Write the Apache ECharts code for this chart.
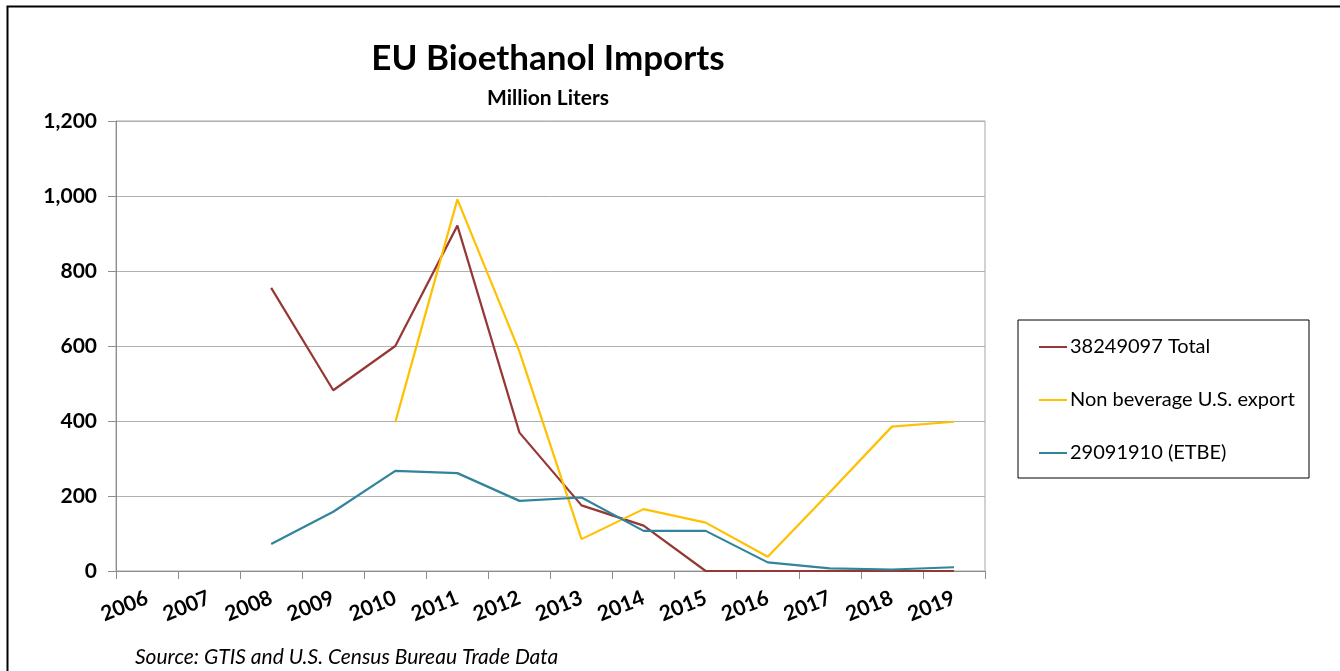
<!DOCTYPE html>
<html>
<head>
<meta charset="utf-8">
<script src="https://cdn.jsdelivr.net/npm/echarts@6/dist/echarts.min.js"></script>
<style>html,body{margin:0;padding:0;background:#fff;}#chart{width:1340px;height:671px;}</style>
</head>
<body>
<div id="chart"></div>
<script>
var years = ['2006','2007','2008','2009','2010','2011','2012','2013','2014','2015','2016','2017','2018','2019'];
var totalSeries = [null, null, 755, 482, 600, 921, 369, 175, 121, 0, 0, 0, 0, 0];
var nonBeverage = [null, null, null, null, 397, 991, 585, 85, 165, 129, 38, 210, 385, 398];
var etbe = [null, null, 72, 158, 267, 261, 187, 196, 107, 107, 23, 7, 4, 10];
var yTicks = [0, 200, 400, 600, 800, 1000, 1200];
var seriesNames = ['38249097 Total', 'Non beverage U.S. export', '29091910 (ETBE)'];
var colors = ['#953735', '#FFC000', '#31849B'];

var font = 'Lato, "Open Sans", sans-serif';
var chart = echarts.init(document.getElementById('chart'), null, {renderer: 'canvas'});
var option = {
  animation: false,
  backgroundColor: '#ffffff',
  color: colors,
  title: [
    {text: 'EU Bioethanol Imports', left: 543, top: 36, textAlign: 'center',
     textStyle: {fontFamily: font, fontWeight: 'bold', fontSize: 35, color: '#000'}},
    {text: 'Million Liters', left: 543, top: 83, textAlign: 'center',
     textStyle: {fontFamily: font, fontWeight: 'bold', fontSize: 21, color: '#000'}},
    {text: 'Source: GTIS and U.S. Census Bureau Trade Data', left: 130, top: 642,
     textStyle: {fontFamily: font, fontStyle: 'italic', fontWeight: 'normal', fontSize: 21, color: '#000'}}
  ],
  legend: {
    orient: 'vertical', left: 1034, top: 332, itemGap: 33,
    itemWidth: 28, itemHeight: 2, icon: 'rect',
    textStyle: {fontFamily: font, fontSize: 20, color: '#000', padding: [0, 0, 0, -2]},
    data: seriesNames
  },
  grid: {left: 116, right: 355, top: 121, bottom: 100, show: true, borderColor: '#A6A6A6', borderWidth: 1},
  xAxis: {
    type: 'category', data: years, boundaryGap: true,
    axisLine: {lineStyle: {color: '#8C8C8C', width: 1}},
    axisTick: {show: true, length: 8, interval: 0, lineStyle: {color: '#8C8C8C'}},
    axisLabel: {interval: 0, hideOverlap: false, rotate: 22, margin: 26, fontFamily: font, fontWeight: 'bold', fontSize: 21, color: '#000'}
  },
  yAxis: {
    type: 'value', min: 0, max: 1200, interval: 200,
    axisLine: {show: true, lineStyle: {color: '#8C8C8C', width: 1}},
    axisTick: {show: true, length: 8, lineStyle: {color: '#8C8C8C'}},
    splitLine: {lineStyle: {color: '#B0B0B0', width: 1}},
    axisLabel: {margin: 19, fontFamily: font, fontWeight: 'bold', fontSize: 21, color: '#000',
      formatter: function (v) { return v.toLocaleString('en-US'); }}
  },
  graphic: [
    {type: 'rect', shape: {x: 1018, y: 320, width: 291, height: 158}, style: {fill: 'none', stroke: '#000', lineWidth: 1}, z: -1},
    {type: 'polyline', shape: {points: [[7.5, 680], [7.5, 6.5], [1340, 6.5]]}, style: {fill: 'none', stroke: '#000', lineWidth: 2}}
  ],
  series: [
    {name: seriesNames[0], type: 'line', data: totalSeries, symbol: 'none', lineStyle: {width: 2.2, color: colors[0]}, z: 3},
    {name: seriesNames[1], type: 'line', data: nonBeverage, symbol: 'none', lineStyle: {width: 2.2, color: colors[1]}, z: 4},
    {name: seriesNames[2], type: 'line', data: etbe, symbol: 'none', lineStyle: {width: 2.2, color: colors[2]}, z: 5}
  ]
};
chart.setOption(option);
</script>
</body>
</html>
